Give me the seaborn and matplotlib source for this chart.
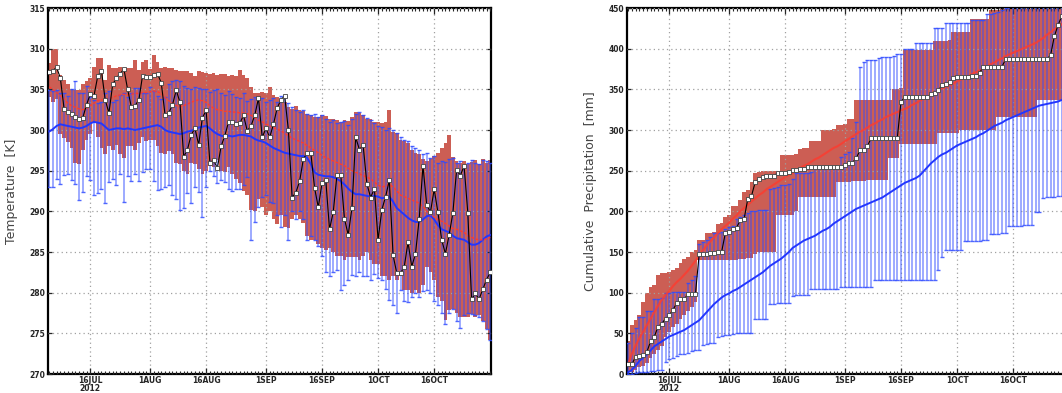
import numpy as np
import pandas as pd
import matplotlib
matplotlib.use("Agg")
import matplotlib.pyplot as plt
import matplotlib.dates as mdates
import seaborn as sns

# daily values, 5 Jul 2012 .. 31 Oct 2012
days = pd.date_range("2012-07-05", "2012-10-31", freq="D")
tick_dates = pd.to_datetime(["2012-07-16", "2012-08-01", "2012-08-16", "2012-09-01",
                             "2012-09-16", "2012-10-01", "2012-10-16"])
tick_labels = ["16JUL\n2012", "1AUG", "16AUG", "1SEP", "16SEP", "1OCT", "16OCT"]

# ---- temperature panel [K] ----
obs_t = [307.1, 307.3, 307.7, 306.4, 302.6, 302.2, 302.0, 301.6, 301.4, 301.5,
         303.1, 304.4, 304.2, 306.6, 307.3, 303.7, 302.1, 305.6, 306.4, 306.9,
         307.5, 305.0, 302.8, 303.0, 303.7, 306.7, 306.5, 306.5, 306.8, 306.9,
         305.8, 301.9, 302.1, 303.1, 304.9, 303.4, 296.7, 297.6, 299.4, 300.2,
         298.2, 301.5, 302.4, 296.0, 296.3, 295.3, 298.0, 299.3, 301.0, 301.0,
         300.7, 300.8, 301.8, 299.9, 300.5, 301.8, 303.9, 299.1, 300.2, 299.1,
         300.7, 302.7, 303.7, 304.2, 300.0, 291.7, 292.3, 293.7, 296.4, 297.2,
         297.2, 292.9, 290.5, 293.5, 293.9, 287.8, 289.9, 294.5, 294.5, 289.1,
         287.1, 290.4, 299.1, 297.6, 298.1, 293.4, 291.7, 292.8, 286.5, 290.2,
         291.8, 293.8, 284.6, 282.4, 282.4, 283.2, 286.2, 283.2, 284.8, 289.1,
         295.6, 290.8, 289.9, 292.7, 289.9, 286.5, 284.8, 287.1, 289.8, 295.1,
         294.4, 295.6, 289.8, 279.2, 279.9, 279.2, 280.4, 281.6, 282.5]

red_hi_t = [308.2, 310.0, 310.0, 306.8, 306.2, 305.6, 305.1, 304.9, 304.9, 305.6,
            306.0, 306.4, 307.8, 308.8, 308.8, 306.2, 308.0, 307.6, 307.6, 307.8,
            307.6, 307.6, 307.6, 308.6, 307.4, 308.3, 308.6, 307.5, 309.2, 308.4,
            307.6, 307.8, 307.6, 307.6, 307.4, 307.2, 307.3, 307.3, 307.0, 306.6,
            307.2, 307.1, 307.0, 306.9, 307.0, 306.8, 306.9, 306.9, 306.6, 306.8,
            306.6, 307.4, 306.8, 306.4, 305.3, 304.6, 304.5, 304.7, 304.5, 305.3,
            304.3, 304.0, 303.8, 303.5, 302.8, 302.6, 302.9, 302.5, 302.3, 302.0,
            301.8, 301.6, 301.6, 301.9, 301.7, 301.4, 301.3, 301.2, 301.0, 301.2,
            301.1, 301.6, 302.2, 302.1, 301.8, 301.4, 301.3, 301.0, 301.0, 300.8,
            301.0, 302.5, 299.8, 299.6, 298.8, 298.6, 298.4, 297.6, 297.2, 297.0,
            296.4, 296.2, 296.4, 296.8, 297.2, 297.8, 298.4, 299.4, 296.7, 296.2,
            296.0, 296.2, 295.8, 296.1, 296.3, 295.8, 296.4, 296.0, 296.3]

red_lo_t = [304.0, 303.5, 303.8, 299.5, 299.0, 298.5, 297.8, 296.0, 295.8, 297.5,
            298.8, 299.5, 300.8, 299.2, 297.8, 297.0, 298.0, 297.6, 298.2, 297.0,
            296.6, 298.0, 298.0, 297.6, 298.4, 299.2, 298.6, 298.8, 298.8, 298.0,
            297.2, 297.0, 297.4, 297.0, 296.0, 295.8, 295.0, 294.6, 296.0, 295.8,
            295.2, 294.6, 295.0, 295.6, 295.4, 296.3, 295.0, 294.8, 295.4, 294.6,
            294.0, 293.5, 292.5, 292.0, 290.2, 290.0, 291.5, 290.5, 289.5, 290.0,
            289.0, 288.5, 289.5, 288.1, 288.0, 289.0, 289.5, 289.0, 288.6, 287.0,
            286.5, 286.5, 286.0, 285.5, 285.3, 285.5, 285.0, 284.5, 284.5, 284.0,
            284.4, 284.4, 284.4, 284.0, 284.5, 285.0, 284.0, 283.5, 283.5, 282.0,
            282.0, 281.5, 282.0, 281.5, 282.0, 280.3, 280.3, 280.0, 280.3, 280.0,
            281.0, 283.2, 282.5, 281.5, 279.5, 279.0, 276.6, 277.9, 278.0, 277.5,
            277.0, 277.0, 277.0, 277.4, 277.0, 277.2, 276.5, 275.5, 274.2]

blue_hi_t = [304.9, 304.8, 304.9, 304.6, 304.5, 304.2, 305.1, 306.0, 304.6, 304.5,
             305.4, 304.0, 303.7, 303.3, 303.4, 304.6, 304.8, 303.4, 303.7, 304.3,
             304.6, 304.1, 304.6, 305.2, 305.2, 304.6, 304.5, 305.3, 304.8, 304.2,
             303.8, 304.0, 305.6, 306.0, 306.2, 306.0, 305.4, 305.2, 305.0, 305.3,
             305.2, 305.1, 305.0, 304.7, 304.9, 305.0, 304.6, 304.3, 304.8, 304.4,
             304.0, 303.9, 304.5, 303.6, 303.8, 304.1, 303.8, 303.9, 303.5, 303.7,
             303.9, 303.4, 304.2, 304.0, 303.3, 302.8, 302.5, 302.2, 302.4, 302.0,
             301.8, 302.0, 301.6, 301.8, 301.4, 301.0, 301.2, 300.8, 301.0, 301.1,
             300.6, 301.3, 302.0, 302.2, 301.8, 301.5, 301.2, 300.9, 300.5, 300.4,
             300.0, 300.2, 300.0, 299.6, 299.2, 298.8, 298.6, 298.0, 297.8, 297.6,
             297.0, 297.2, 296.6, 296.8, 296.0, 296.2, 296.1, 296.4, 296.6, 296.0,
             296.2, 295.6, 296.0, 296.3, 296.0, 295.8, 296.3, 296.2, 296.0]

blue_lo_t = [293.0, 293.0, 294.0, 293.3, 294.5, 294.6, 293.9, 293.4, 291.4, 292.4,
             294.3, 293.8, 292.0, 292.3, 292.8, 291.0, 293.6, 294.0, 293.2, 294.6,
             291.2, 294.4, 293.7, 294.6, 293.7, 294.8, 295.2, 295.2, 293.7, 292.6,
             292.8, 293.0, 293.2, 292.0, 291.5, 290.2, 290.4, 292.3, 291.0, 293.0,
             292.4, 289.3, 293.0, 295.0, 294.3, 293.5, 293.8, 293.6, 292.7, 292.5,
             292.7, 292.7, 293.2, 294.2, 286.5, 288.7, 290.5, 291.8, 292.0, 291.2,
             291.0, 289.5, 288.1, 289.5, 286.5, 290.0, 289.0, 290.0, 289.0, 286.5,
             287.0, 286.5, 285.7, 284.5, 282.5, 282.0, 282.6, 282.8, 280.3, 281.0,
             281.5, 282.2, 282.0, 282.5, 282.0, 282.0, 281.5, 282.3, 281.8, 281.5,
             280.5, 279.1, 278.5, 277.5, 280.3, 279.0, 278.8, 279.5, 280.0, 279.5,
             280.2, 280.3, 280.0, 279.0, 278.5, 277.5, 276.2, 277.5, 278.0, 276.5,
             275.6, 277.2, 277.5, 277.4, 277.3, 277.0, 276.5, 275.5, 274.2]

blue_mean_t = [299.8, 300.1, 300.5, 300.7, 300.6, 300.5, 300.4, 300.3, 300.2, 300.3,
               300.5, 300.8, 301.0, 300.9, 300.8, 300.4, 300.0, 300.1, 300.2, 300.2,
               300.1, 300.2, 300.1, 300.0, 300.1, 300.2, 300.3, 300.4, 300.5, 300.6,
               300.4, 300.0, 299.8, 299.7, 299.6, 299.5, 299.6, 299.8, 299.9, 300.1,
               300.3, 300.4, 300.5, 300.2, 299.8, 299.5, 299.3, 299.2, 299.3, 299.2,
               299.3, 299.4, 299.4, 299.3, 299.2, 298.9, 298.7, 298.6, 298.4, 298.1,
               297.8, 297.6, 297.4, 297.2, 297.1, 297.0, 296.9, 296.8, 296.8, 296.6,
               295.8, 294.8, 294.5, 294.4, 294.3, 294.3, 294.2, 294.0, 293.7, 293.3,
               292.8, 292.4, 292.1, 292.1, 292.0, 291.9, 291.8, 291.9, 291.8, 291.6,
               291.7, 291.8, 291.2, 290.4, 290.0, 289.6, 289.2, 288.9, 288.7, 288.7,
               289.0, 289.4, 289.5, 289.0, 288.3, 287.8, 287.6, 287.4, 287.0, 286.7,
               286.6, 286.5, 286.2, 285.9, 285.9, 286.1, 286.5, 286.9, 287.1]

red_mean_t = [305.3, 305.0, 304.6, 304.2, 303.8, 303.3, 303.0, 302.8, 302.6, 302.5,
              302.7, 303.0, 303.3, 303.6, 303.7, 303.8, 303.9, 304.0, 304.2, 304.3,
              304.4, 304.3, 304.4, 304.5, 304.5, 304.6, 304.6, 304.7, 304.8, 304.7,
              304.5, 304.0, 303.6, 303.3, 303.0, 302.9, 303.0, 303.2, 303.4, 303.6,
              303.7, 303.6, 303.4, 303.0, 302.7, 302.5, 302.4, 302.3, 302.3, 302.2,
              302.2, 302.1, 302.1, 302.0, 301.8, 301.5, 301.2, 301.0, 300.7, 300.5,
              300.3, 300.1, 299.9, 299.6, 299.3, 299.0, 298.8, 298.6, 298.4, 298.1,
              297.8, 297.5, 297.2, 296.9, 296.6, 296.4, 296.2, 296.0, 295.8, 295.6,
              295.3, 295.0, 294.8, 294.6, 294.4, 294.2, 294.0, 293.6, 293.2, 293.0,
              293.1, 293.3, 293.0, 292.5, 292.0, 291.8, 291.6, 291.4, 291.2, 291.0,
              290.6, 290.0, 289.6, 289.3, 289.0, 288.8, 288.5, 288.2, 287.9, 287.8,
              287.6, 287.4, 287.0, 286.8, 286.6, 286.5, 286.5, 286.6, 286.8]

# ---- cumulative precipitation panel [mm] ----
obs_p = [12, 12, 21, 22, 23, 27, 40, 46, 58, 62,
         68, 72, 79, 87, 92, 92, 98, 98, 98, 147,
         147, 148, 149, 149, 150, 150, 173, 174, 178, 180,
         189, 190, 215, 219, 236, 240, 242, 243, 243, 244,
         247, 247, 247, 248, 251, 251, 252, 252, 254, 254,
         254, 254, 255, 255, 255, 255, 255, 255, 257, 259,
         260, 265, 275, 276, 280, 290, 290, 290, 290, 290,
         290, 290, 290, 335, 340, 340, 340, 340, 340, 340,
         340, 344, 345, 349, 355, 357, 359, 364, 365, 365,
         365, 365, 366, 366, 370, 378, 378, 378, 378, 378,
         378, 387, 387, 387, 387, 387, 387, 387, 387, 387,
         387, 387, 387, 392, 415, 429, 440, 445, 450]

red_hi_p = [40, 60, 66, 72, 89, 99, 107, 110, 122, 124,
            124, 126, 128, 130, 136, 142, 144, 150, 152, 165,
            165, 173, 173, 175, 185, 186, 193, 195, 206, 206,
            214, 224, 226, 236, 247, 248, 249, 249, 249, 249,
            249, 269, 269, 269, 269, 270, 277, 278, 278, 286,
            286, 286, 300, 300, 300, 301, 306, 306, 307, 314,
            314, 337, 337, 337, 337, 337, 337, 337, 337, 337,
            337, 351, 351, 352, 398, 398, 398, 398, 398, 398,
            398, 398, 410, 410, 410, 410, 411, 421, 421, 421,
            421, 421, 437, 437, 437, 437, 437, 448, 448, 448,
            455, 455, 455, 455, 455, 455, 455, 455, 455, 455,
            460, 460, 460, 460, 460, 460, 460, 460, 460]

red_lo_p = [2, 3, 5, 8, 10, 14, 20, 25, 30, 35,
            45, 52, 58, 62, 68, 72, 78, 82, 88, 140,
            140, 140, 140, 140, 140, 140, 140, 140, 140, 140,
            141, 141, 143, 143, 148, 150, 150, 150, 150, 150,
            195, 195, 195, 195, 195, 200, 218, 218, 218, 218,
            218, 218, 218, 218, 218, 218, 236, 236, 236, 236,
            237, 237, 237, 237, 238, 238, 238, 238, 238, 238,
            265, 265, 265, 283, 283, 283, 283, 283, 283, 283,
            283, 283, 283, 296, 296, 296, 296, 296, 296, 300,
            300, 300, 300, 300, 300, 300, 300, 300, 300, 316,
            316, 316, 316, 316, 316, 316, 316, 316, 316, 316,
            337, 337, 337, 337, 337, 337, 337, 337, 337]

blue_hi_p = [38, 50, 56, 70, 70, 78, 78, 92, 92, 93,
             100, 100, 101, 101, 101, 101, 112, 116, 120, 160,
             162, 165, 168, 173, 173, 174, 178, 181, 182, 191,
             193, 196, 198, 200, 201, 202, 202, 202, 228, 229,
             230, 232, 232, 233, 240, 247, 247, 247, 247, 248,
             253, 253, 253, 253, 253, 253, 254, 267, 270, 273,
             290, 310, 378, 384, 386, 386, 386, 388, 390, 390,
             390, 391, 394, 394, 399, 399, 400, 407, 407, 407,
             407, 407, 425, 425, 425, 431, 431, 431, 431, 431,
             431, 431, 435, 435, 435, 435, 443, 443, 444, 445,
             448, 450, 455, 455, 455, 455, 455, 455, 455, 455,
             455, 455, 455, 455, 455, 455, 455, 455, 455]

blue_lo_p = [0, 0, 1, 2, 3, 3, 4, 4, 5, 5,
             15, 18, 20, 22, 24, 25, 26, 28, 29, 30,
             36, 37, 38, 38, 46, 47, 48, 48, 49, 50,
             50, 51, 51, 51, 68, 68, 68, 68, 86, 86,
             87, 87, 87, 87, 96, 97, 97, 97, 97, 105,
             105, 105, 105, 105, 105, 105, 105, 107, 107, 107,
             107, 107, 107, 107, 107, 107, 115, 115, 115, 115,
             115, 115, 115, 115, 115, 115, 115, 115, 115, 115,
             115, 115, 115, 128, 144, 152, 152, 152, 152, 152,
             164, 164, 164, 164, 164, 165, 165, 172, 172, 172,
             173, 173, 182, 182, 182, 182, 183, 183, 183, 199,
             199, 217, 218, 218, 218, 219, 219, 220, 220]

blue_mean_p = [2, 5, 10, 16, 20, 24, 29, 34, 37, 40,
               43, 46, 48, 50, 52, 54, 57, 60, 63, 66,
               71, 76, 81, 86, 90, 94, 97, 99, 102, 104,
               107, 110, 113, 116, 119, 122, 125, 129, 133, 136,
               139, 142, 146, 150, 155, 158, 161, 164, 166, 168,
               170, 173, 176, 178, 181, 185, 188, 191, 194, 197,
               200, 203, 205, 207, 209, 211, 213, 215, 217, 220,
               223, 226, 229, 232, 235, 237, 239, 241, 244, 249,
               254, 259, 263, 267, 270, 272, 275, 278, 281, 283,
               285, 287, 289, 291, 294, 296, 299, 302, 305, 307,
               309, 312, 314, 316, 318, 320, 322, 324, 326, 328,
               330, 331, 332, 333, 334, 335, 337, 339, 341]

red_mean_p = [12, 25, 35, 44, 52, 60, 68, 76, 84, 91,
              97, 102, 108, 113, 117, 122, 127, 133, 139, 146,
              152, 158, 163, 168, 173, 178, 182, 186, 191, 195,
              200, 204, 208, 212, 216, 220, 223, 227, 230, 233,
              236, 239, 242, 245, 247, 250, 253, 256, 258, 261,
              264, 266, 269, 272, 275, 278, 280, 283, 286, 289,
              292, 295, 298, 300, 303, 306, 308, 311, 313, 316,
              318, 320, 322, 324, 326, 328, 331, 333, 336, 338,
              341, 343, 346, 348, 351, 353, 355, 357, 360, 362,
              364, 366, 369, 371, 373, 376, 378, 381, 383, 386,
              388, 391, 393, 395, 397, 399, 401, 403, 405, 407,
              410, 413, 417, 420, 424, 427, 430, 434, 437]

RED = "#cc5e54"
BLUE = "#2f4bff"
TICKFONT = dict(fontsize=5.5, fontweight="bold", linespacing=0.85,
                family=["Liberation Sans Narrow", "DejaVu Sans"])


def panel(ax, red_lo, red_hi, blue_lo, blue_hi, blue_mean, red_mean, obs,
          ylim, yticks, ylabel, red_style):
    x = mdates.date2num(days)
    red_lo = np.asarray(red_lo, float)
    red_hi = np.asarray(red_hi, float)
    blue_lo = np.asarray(blue_lo, float)
    blue_hi = np.asarray(blue_hi, float)

    ax.bar(x, red_hi - red_lo, bottom=red_lo, width=1.0, color=RED,
           linewidth=0, zorder=2)
    mid = (blue_hi + blue_lo) / 2
    eb = ax.errorbar(x, mid, yerr=[mid - blue_lo, blue_hi - mid], fmt="none",
                     ecolor=BLUE, elinewidth=1.2, capsize=1.45, capthick=1.0,
                     zorder=3)
    eb[2][0].set_alpha(0.55)
    for c in eb[1]:
        c.set_alpha(0.85)

    sns.lineplot(x=x, y=blue_mean, ax=ax, color="#2236ff", linewidth=1.4, zorder=4)
    sns.lineplot(x=x, y=red_mean, ax=ax, color="#ff3a2e", zorder=4, **red_style)
    sns.lineplot(x=x, y=obs, ax=ax, color="black", linewidth=0.8, marker="s",
                 markersize=3.4, markerfacecolor="white", markeredgecolor="#444444",
                 markeredgewidth=0.6, zorder=5)

    ax.set_xlim(x[0] - 0.3, x[-1] + 0.2)
    ax.set_ylim(*ylim)
    ax.set_yticks(yticks)
    ax.set_xticks(mdates.date2num(tick_dates))
    ax.set_xticklabels(tick_labels, **TICKFONT)
    ax.set_yticklabels([str(v) for v in yticks], **TICKFONT)
    ax.xaxis.set_minor_locator(mdates.DayLocator())
    ax.tick_params(axis="x", which="major", direction="in", length=4, width=0.9,
                   top=True, bottom=True, pad=1.5)
    ax.tick_params(axis="x", which="minor", direction="in", length=2, width=0.8,
                   top=True, bottom=True)
    ax.tick_params(axis="y", which="major", direction="in", length=3, width=0.9,
                   left=True, right=True, pad=2)
    ax.grid(True, which="major", color="#a0a0a0", linestyle=(0, (1, 2.5)),
            linewidth=0.9)
    ax.set_axisbelow(False)
    for s in ax.spines.values():
        s.set_linewidth(1.6)
        s.set_color("black")
    ax.set_xlabel("")
    ax.set_ylabel(ylabel, fontsize=9, color="#444444")
    ax.yaxis.set_label_coords(-0.068, 0.5)


sns.set_style("white")
plt.rcParams["font.family"] = ["DejaVu Sans"]

fig = plt.figure(figsize=(10.62, 3.93), dpi=100)
ax1 = fig.add_axes([48 / 1062, 19 / 393, 443 / 1062, 366 / 393])
ax2 = fig.add_axes([627 / 1062, 19 / 393, 443 / 1062, 366 / 393])

panel(ax1, red_lo_t, red_hi_t, blue_lo_t, blue_hi_t, blue_mean_t, red_mean_t, obs_t,
      (270, 315), list(range(270, 316, 5)), "Temperature  [K]",
      dict(linewidth=1.0, linestyle=(0, (2, 1.2))))
panel(ax2, red_lo_p, red_hi_p, blue_lo_p, blue_hi_p, blue_mean_p, red_mean_p, obs_p,
      (0, 450), list(range(0, 451, 50)), "Cumulative  Precipitation  [mm]",
      dict(linewidth=1.5, alpha=0.8))

fig.savefig("out.png", dpi=100)
